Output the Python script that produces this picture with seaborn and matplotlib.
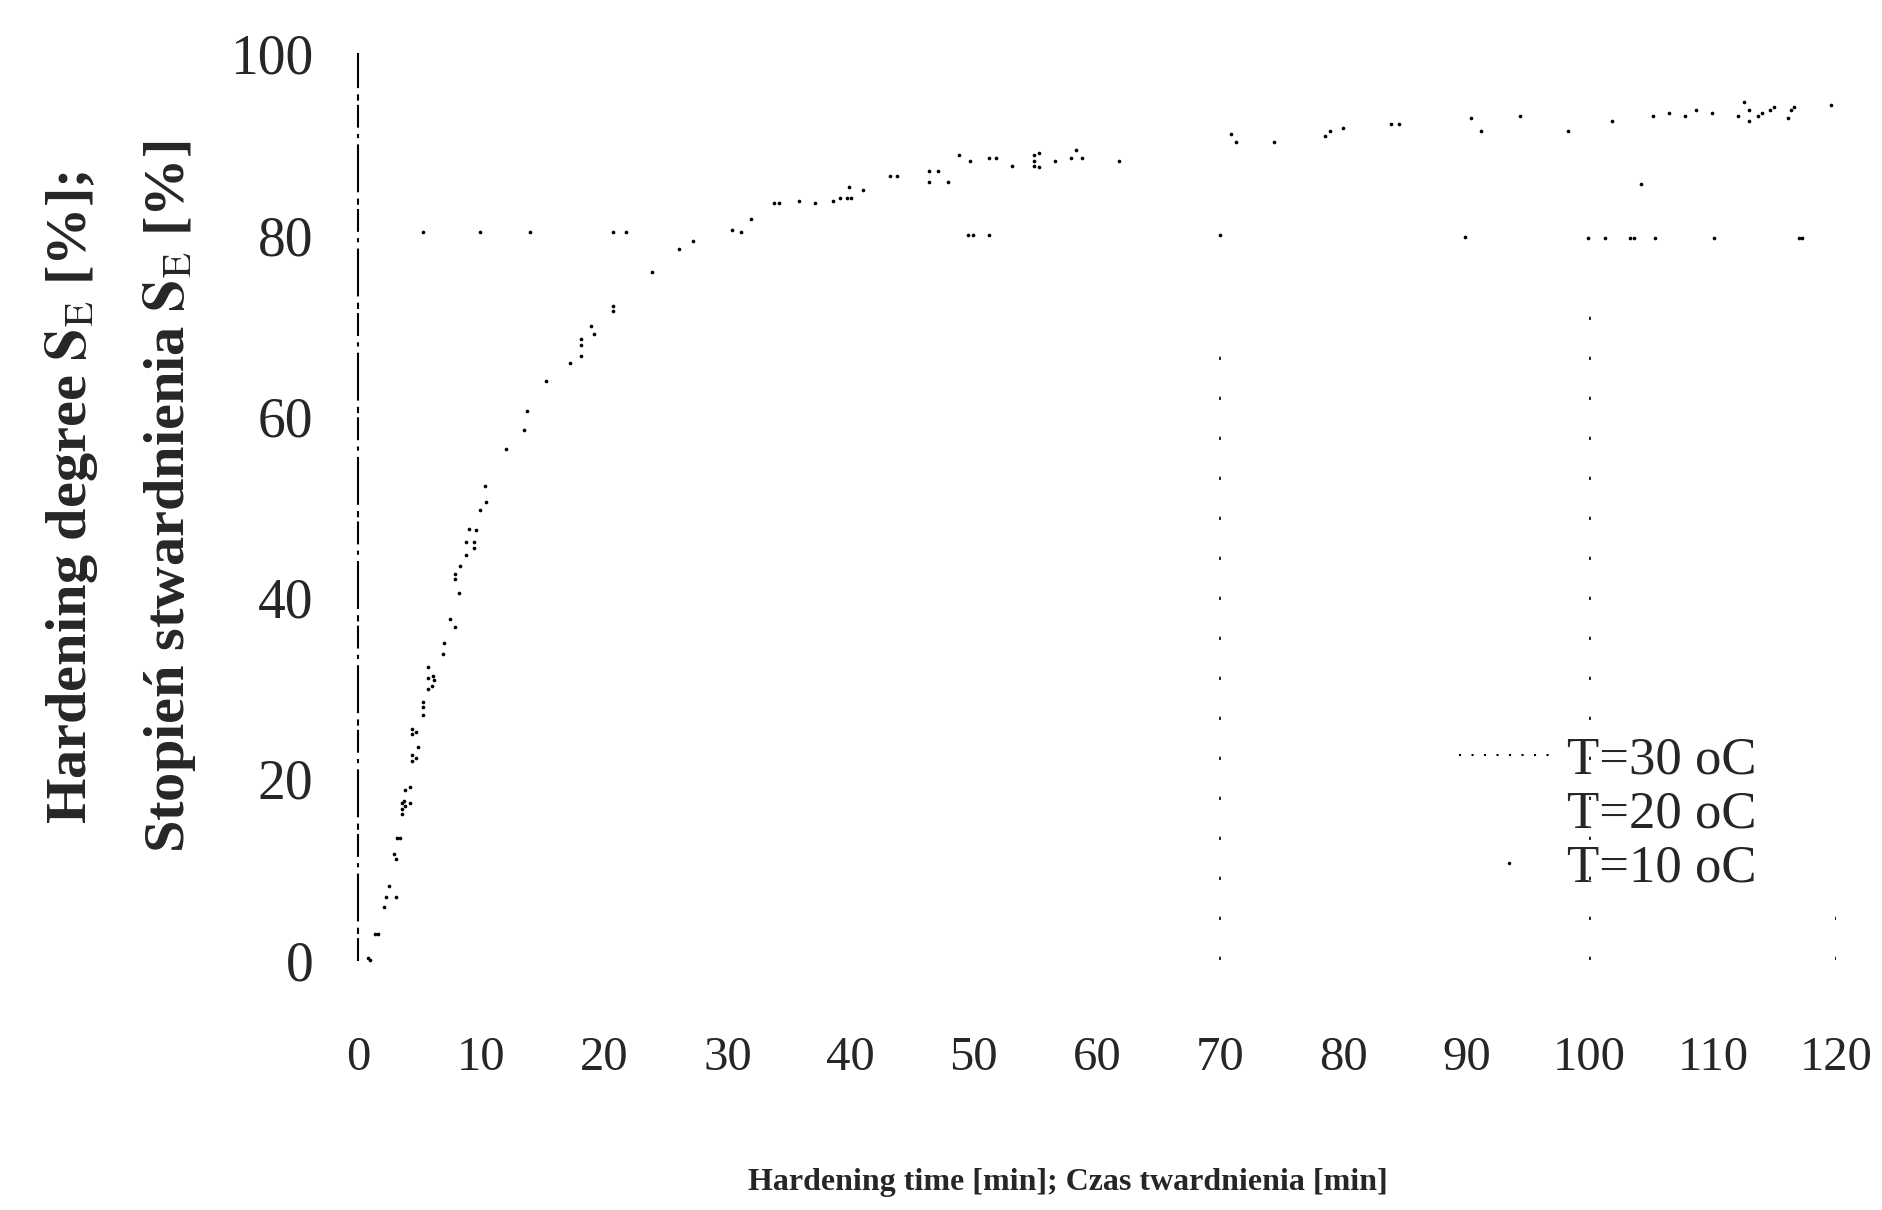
import matplotlib
matplotlib.use('Agg')
import matplotlib.pyplot as plt
import seaborn as sns
from matplotlib.lines import Line2D

# T = 30 oC points (time [min], degree [%])
T30_TIME = [0.8, 1.0, 1.4, 1.6, 2.1, 2.3, 3.1, 2.5, 3.1, 2.9, 3.2, 3.4, 3.6, 3.6,
            3.8, 3.6, 4.2, 3.7, 3.8, 4.2, 4.4, 4.7, 4.4, 4.9, 4.4, 4.7, 4.4, 5.3,
            5.3, 5.3, 5.7, 6.0, 6.2, 5.7, 6.1, 5.7, 6.9, 7.0, 7.9, 7.5, 8.2, 7.9,
            7.9, 8.3, 8.8, 9.4, 9.4, 8.8, 9.6, 9.0, 9.9, 10.4, 10.3, 12.0, 13.5,
            13.7, 15.3, 17.2, 18.1, 18.1, 18.1, 19.2, 18.9, 20.7, 20.7, 23.9, 26.1,
            27.2, 30.4, 31.1, 31.9, 33.8, 34.2, 35.8, 37.1, 38.6, 39.1, 39.7, 40.0,
            39.9, 41.0, 43.2, 43.8, 46.4, 47.1, 46.4, 47.9, 48.8, 49.7, 51.2, 51.8,
            53.1, 54.9, 54.9, 54.9, 55.3, 55.3, 56.6, 57.9, 58.3, 58.8, 61.8, 70.9,
            71.3, 74.4, 78.5, 78.9, 80.0, 83.9, 84.5, 90.4, 91.2, 94.3, 98.2, 101.8,
            104.2, 105.1, 106.4, 107.7, 108.6, 109.9, 112.0, 112.5, 112.9, 112.9,
            113.7, 114.0, 114.6, 115.0, 116.1, 116.3, 116.6, 119.6]
T30_DEGREE = [0.2, 0.0, 2.9, 2.9, 5.8, 7.0, 7.0, 8.2, 11.1, 11.7, 13.5, 13.5, 16.1, 16.7,
              17.0, 17.3, 17.3, 17.6, 18.8, 19.1, 22.0, 22.3, 22.6, 23.5, 24.9, 25.2, 25.5, 27.0,
              27.9, 28.5, 29.9, 30.2, 30.9, 31.1, 31.4, 32.3, 33.8, 35.0, 36.7, 37.6, 40.5, 42.0,
              42.6, 43.5, 44.7, 45.5, 46.1, 46.1, 47.5, 47.6, 49.7, 50.6, 52.3, 56.4, 58.5,
              60.6, 63.9, 65.9, 66.7, 67.9, 68.5, 69.1, 70.0, 71.6, 72.2, 75.9, 78.5,
              79.4, 80.6, 80.3, 81.8, 83.5, 83.5, 83.8, 83.5, 83.8, 84.1, 84.1, 84.1,
              85.3, 85.0, 86.5, 86.5, 87.1, 87.1, 85.9, 85.9, 88.8, 88.2, 88.5, 88.5,
              87.6, 88.8, 88.2, 87.6, 89.1, 87.5, 88.2, 88.5, 89.4, 88.5, 88.2, 91.2,
              90.3, 90.3, 90.9, 91.5, 91.8, 92.3, 92.3, 92.9, 91.5, 93.2, 91.5, 92.6,
              85.6, 93.2, 93.5, 93.2, 93.8, 93.5, 93.2, 94.7, 93.8, 92.6,
              93.2, 93.5, 93.8, 94.1, 92.9, 93.8, 94.1, 94.4]

# what is left of the dotted 80 % line
ROW80_TIME = [5.3, 9.9, 14.0, 20.7, 21.8, 49.5, 49.9, 51.2, 70.0, 89.9,
              99.9, 101.2, 103.3, 103.6, 105.3, 110.1, 117.0, 117.2]
ROW80_DEGREE = [80.3, 80.3, 80.3, 80.3, 80.3, 80.0, 80.0, 80.0, 80.0, 79.8,
                79.7, 79.7, 79.7, 79.7, 79.7, 79.7, 79.7, 79.7]

# broken vertical guide lines
GUIDE_TIME = [70, 100, 120]
GUIDE_TOP = [67, 74, 5]

X_TICKS = list(range(0, 121, 10))
Y_TICKS = list(range(0, 101, 20))
LEGEND_LABELS = ['T=30 oC', 'T=20 oC', 'T=10 oC']

sns.set_theme(style='white')
plt.rcParams['font.family'] = ['Liberation Serif', 'DejaVu Serif']
plt.rcParams['mathtext.fontset'] = 'stix'

fig = plt.figure(figsize=(18.82, 12.10), dpi=100)
ax = fig.add_axes([0.1902, 0.2066, 0.7854, 0.7488])

sns.scatterplot(x=T30_TIME, y=T30_DEGREE, color='black', s=7, linewidth=0,
                ax=ax, clip_on=False, legend=False)
sns.scatterplot(x=ROW80_TIME, y=ROW80_DEGREE, color='black', s=7, linewidth=0,
                ax=ax, clip_on=False, legend=False)
ax.vlines(GUIDE_TIME, 0, GUIDE_TOP, colors='black', linewidth=1.2,
          linestyles=[(0, (2, 22))])

ax.set_xlim(0, 120)
ax.set_ylim(0, 100)
ax.set_xticks(X_TICKS)
ax.set_yticks(Y_TICKS)
ax.tick_params(axis='x', length=0, labelsize=35, pad=55)
ax.tick_params(axis='y', length=0, labelsize=40, pad=32)

for side in ['top', 'right', 'bottom']:
    ax.spines[side].set_visible(False)
ax.spines['left'].set_color('black')
ax.spines['left'].set_linewidth(1.5)
ax.spines['left'].set_linestyle((0, (10, 3, 2, 4, 22, 4, 1, 4)))

handles = [Line2D([], [], color='black', linewidth=1.5, linestyle=(0, (1, 5))),
           Line2D([], [], linestyle='none'),
           Line2D([], [], color='black', marker='.', markersize=3, linestyle='none')]
ax.legend(handles, LEGEND_LABELS, loc='upper left', bbox_to_anchor=(0.745, 0.247),
          frameon=False, fontsize=38, handlelength=1.9, handletextpad=0.15,
          labelspacing=0.12, borderpad=0, borderaxespad=0)

fig.text(0.038, 0.589, r'Hardening degree $\mathbf{S}_{\mathrm{E}}$ [%];', rotation=90,
         ha='center', va='center', fontsize=42, fontweight='bold')
fig.text(0.090, 0.589, r'Stopień stwardnienia $\mathbf{S}_{\mathrm{E}}$ [%]', rotation=90,
         ha='center', va='center', fontsize=42, fontweight='bold')
fig.text(0.5675, 0.0231, 'Hardening time [min]; Czas twardnienia [min]',
         ha='center', va='center', fontsize=23, fontweight='bold')

fig.savefig('out.png', dpi=100)
plt.close(fig)
